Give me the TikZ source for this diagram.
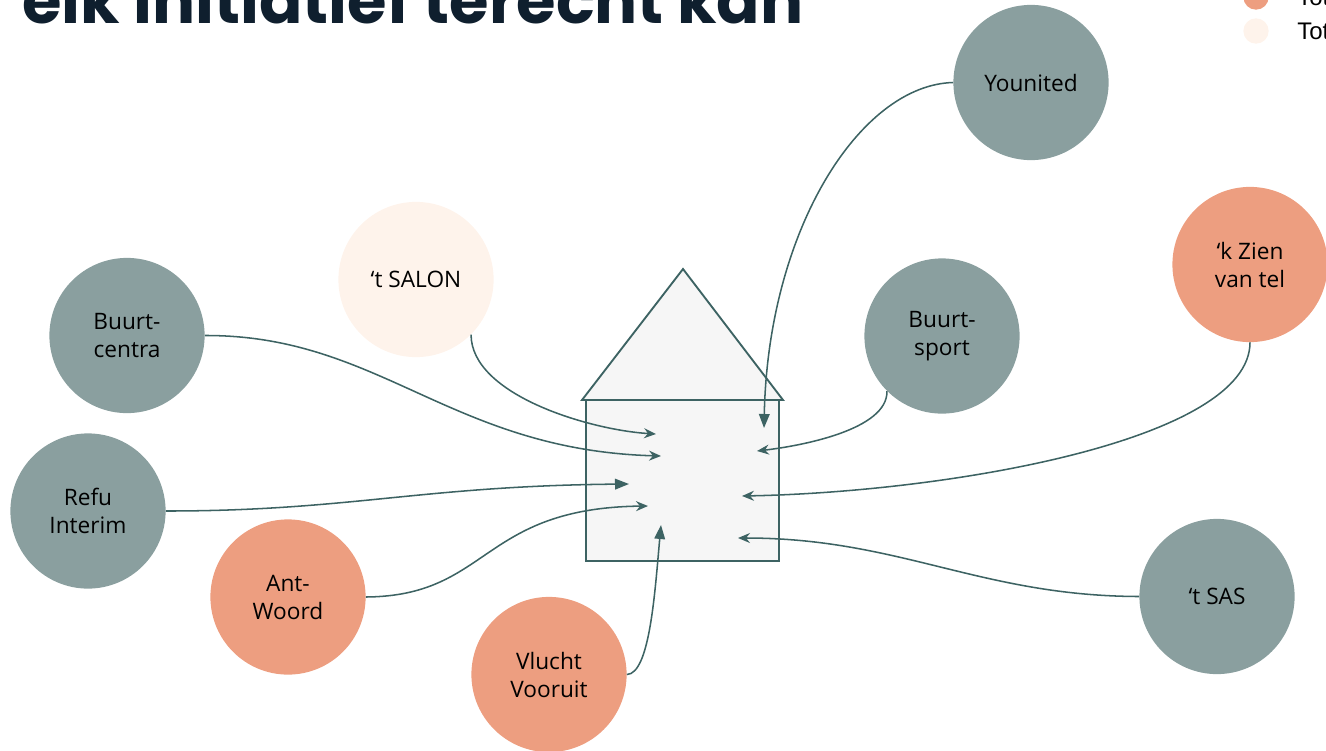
\documentclass[tikz,border=0pt]{standalone}
\usepackage{fontspec}
\setmainfont{Open Sans}
\newfontfamily\titlefont{Poppins}
\newfontfamily\legendfont{Liberation Sans}
\usetikzlibrary{arrows.meta}
\tikzset {>=Stealth}
\definecolor{sage}{HTML}{8A9F9F}
\definecolor{salmon}{HTML}{ED9E80}
\definecolor{cream}{HTML}{FEF3EB}
\definecolor{housefill}{HTML}{F6F6F6}
\definecolor{houseline}{HTML}{3D6363}
\definecolor{titleink}{HTML}{0F1F2E}
\tikzset{
  org/.style={circle,minimum size=116.4pt,inner sep=0pt,align=center,font=\fontsize{17}{21}\selectfont,text=black},
  orggreen/.style={org,fill=sage},
  orgred/.style={org,fill=salmon},
  orgcream/.style={org,fill=cream},
  link/.style={draw=houseline,line width=1.15pt,-{Stealth[length=9pt,width=7.5pt,inset=3pt]}},
  linkbig/.style={draw=houseline,line width=1.15pt,-{Stealth[length=10.5pt,width=8pt,inset=0pt]}},
  house/.style={draw=houseline,fill=housefill,line width=1.4pt},
  dot/.style={circle,minimum size=19pt,inner sep=0pt},
  legendtext/.style={anchor=base west,inner sep=0pt,font=\legendfont\fontsize{18}{18}\selectfont}
}
\begin{document}
\begin{tikzpicture}[x=.75pt,y=-.75pt]
\useasboundingbox (0,0) rectangle (1326,750);
\clip (0,0) rectangle (1326,750);
\node[anchor=base west,inner sep=0pt,text=titleink,font=\titlefont\bfseries\fontsize{48}{48}\selectfont] (title) at (22,23) {elk initiatief terecht kan};
\node[dot,fill=salmon] (dotA) at (1256,-3) {};
\node[dot,fill=cream] (dotB) at (1256,31) {};
\node[legendtext] (legendA) at (1297,5) {Tot};
\node[legendtext] (legendB) at (1297,39) {Tot};
\draw[house] (586,400) rectangle (779,561);
\draw[house] (582,400) -- (683,269) -- (783,400) -- cycle;
\node[orggreen] (younited) at (1031,82.5) {Younited};
\node[orgcream] (salon) at (416,279.5) {‘t SALON};
\node[orggreen] (centra) at (127,335.5) {Buurt-\\centra};
\node[orggreen] (refu) at (88,511) {Refu\\Interim};
\node[orgred] (antwoord) at (288,597) {Ant-\\Woord};
\node[orgred] (vlucht) at (549,674.5) {Vlucht\\Vooruit};
\node[orggreen] (sport) at (942,336) {Buurt-\\sport};
\node[orgred] (zien) at (1250,264.5) {‘k Zien\\van tel};
\node[orggreen] (sas) at (1217,596.5) {‘t SAS};
\coordinate (inYounited) at (764,428);
\coordinate (inSalon) at (656,434);
\coordinate (inCentra) at (661,456);
\coordinate (inRefu) at (629,484);
\coordinate (inAntwoord) at (648,506);
\coordinate (inVlucht) at (661,525);
\coordinate (inSport) at (757,451);
\coordinate (inZien) at (742,496);
\coordinate (inSas) at (738,538);
\draw[linkbig] (younited.west) .. controls (860,85) and (768,230) .. (inYounited);
\draw[link] (salon.-45) .. controls (471,395) and (590,430) .. (inSalon);
\draw[link] (centra.east) .. controls (380,335) and (450,450) .. (inCentra);
\draw[linkbig] (refu.east) .. controls (350,511) and (420,486) .. (inRefu);
\draw[link] (antwoord.east) .. controls (490,596) and (480,508) .. (inAntwoord);
\draw[linkbig] (vlucht.east) .. controls (650,674) and (655,590) .. (inVlucht);
\draw[link] (sport.-135) .. controls (888,430) and (800,446) .. (inSport);
\draw[link] (zien.south) .. controls (1250,440) and (950,492) .. (inZien);
\draw[link] (sas.west) .. controls (980,596) and (900,538) .. (inSas);
\end{tikzpicture}
\end{document}
